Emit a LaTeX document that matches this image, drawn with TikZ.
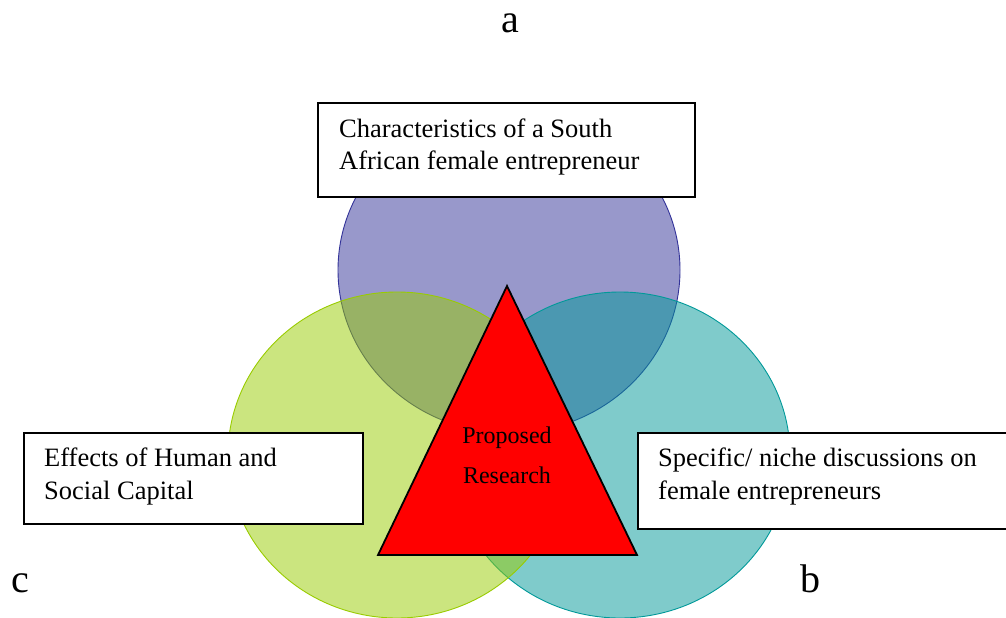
\documentclass[tikz,border=0pt]{standalone}
\usepackage{fontspec}
\setmainfont{Liberation Serif}
\definecolor{cpurple}{RGB}{51,51,153}
\definecolor{cteal}{RGB}{0,153,153}
\definecolor{cgreen}{RGB}{153,204,0}
\definecolor{cred}{RGB}{255,0,0}
\tikzset{
  setcircle/.style={fill=#1, fill opacity=0.5, draw=#1, draw opacity=1, line width=0.9pt},
  labelbox/.style={draw=black, fill=white, line width=1.8pt, inner sep=0pt, anchor=north west},
  boxtext/.style={anchor=base west, inner sep=0pt, font=\fontsize{26.5}{32}\selectfont},
  tritext/.style={anchor=base, inner sep=0pt, font=\fontsize{24}{40}\selectfont},
  letter/.style={anchor=base, inner sep=0pt, font=\fontsize{40}{44}\selectfont},
}
\begin{document}
\begin{tikzpicture}[x=1pt,y=-1pt]
\clip (0,0) rectangle (1006,618);
\fill[white] (0,0) rectangle (1006,618);
% circles
\draw[setcircle=cpurple] (509,270) ellipse [x radius=171, y radius=163];
\draw[setcircle=cteal] (620,455) ellipse [x radius=170, y radius=163];
\draw[setcircle=cgreen] (397,455) ellipse [x radius=169, y radius=163];
% triangle
\coordinate (tA) at (507,286);
\coordinate (tB) at (378,555);
\coordinate (tC) at (637,555);
\draw[fill=cred, line width=1.8pt, line join=miter] (tA) -- (tB) -- (tC) -- cycle;
\node[tritext] (p1) at (507,443) {Proposed};
\node[tritext] (p2) at (507,483) {Research};
% boxes
\node[labelbox, minimum width=377pt, minimum height=94pt] (boxa) at (317,102) {};
\node[boxtext] (a1) at (339,137) {Characteristics of a South};
\node[boxtext] (a2) at (339,169) {African female entrepreneur};
\node[labelbox, minimum width=339pt, minimum height=91pt] (boxc) at (23,432) {};
\node[boxtext] (c1) at (44,466) {Effects of Human and};
\node[boxtext] (c2) at (44,499) {Social Capital};
\node[labelbox, minimum width=380pt, minimum height=96pt] (boxb) at (637,432) {};
\node[boxtext] (b1) at (658,466) {Specific/ niche discussions on};
\node[boxtext] (b2) at (658,499) {female entrepreneurs};
% letters
\node[letter] (la) at (510,33) {a};
\node[letter] (lc) at (20,592) {c};
\node[letter] (lb) at (810,592) {b};
\end{tikzpicture}
\end{document}
